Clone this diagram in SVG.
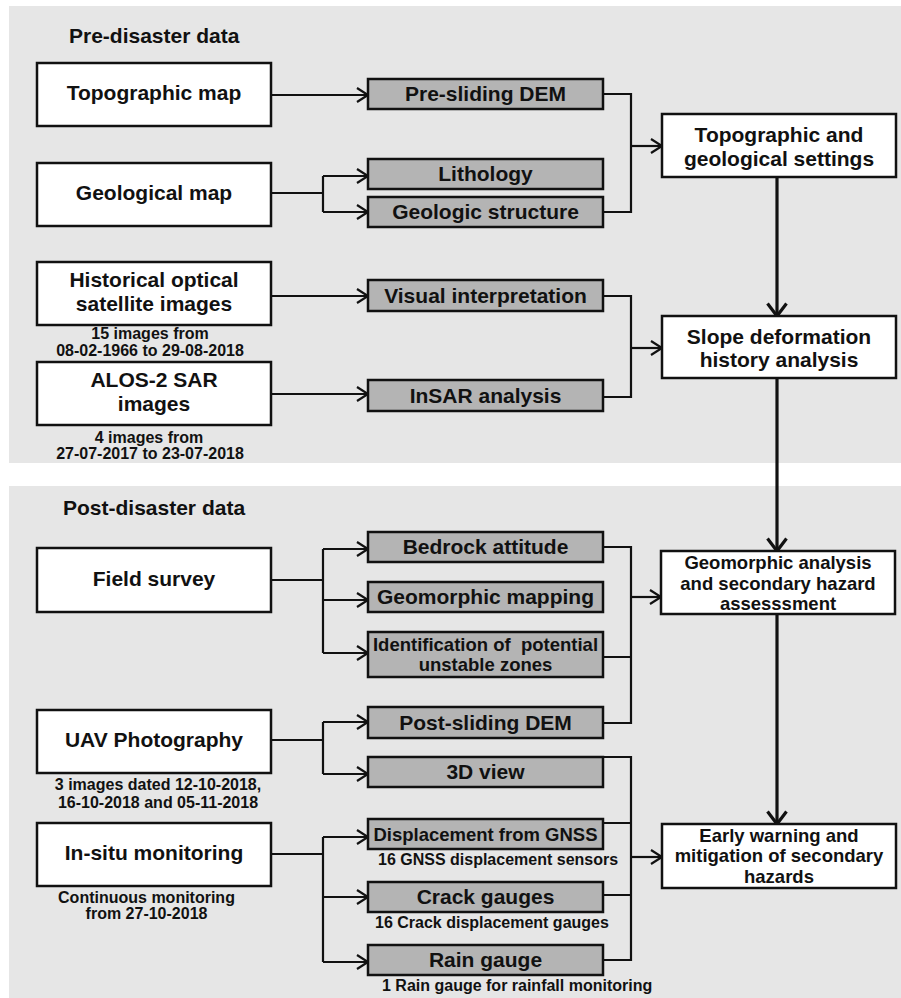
<svg xmlns="http://www.w3.org/2000/svg" width="901" height="998" viewBox="0 0 901 998">
<defs>
<style>
.panel{fill:#e6e6e6;stroke:none}
.wb{fill:#ffffff;stroke:#111;stroke-width:2.5}
.gb{fill:#b4b4b4;stroke:#111;stroke-width:2.5}
text{font-family:"Liberation Sans",Arial,sans-serif;font-weight:bold;fill:#111}
.t21{font-size:21px;text-anchor:middle}
.t185{font-size:18.5px;text-anchor:middle}
.cap{font-size:16px;text-anchor:middle}
.title{font-size:21px}
.c{fill:none;stroke:#111;stroke-width:2.2}
.ck{fill:none;stroke:#111;stroke-width:3.2}
</style>
<marker id="a" markerUnits="userSpaceOnUse" markerWidth="16" markerHeight="18" refX="12.5" refY="8.5" orient="auto">
<path d="M1.5,1.5 L12.5,8.5 L1.5,15.5" fill="none" stroke="#111" stroke-width="2.2"/>
</marker>
<marker id="b" markerUnits="userSpaceOnUse" markerWidth="18" markerHeight="24" refX="14" refY="11" orient="auto">
<path d="M1.5,1.5 L14,11 L1.5,20.5" fill="none" stroke="#111" stroke-width="3.2"/>
</marker>
</defs>

<rect class="panel" x="9" y="6" width="892" height="457"/>
<rect class="panel" x="9" y="486" width="892" height="512"/>
<text class="title" x="69" y="43">Pre-disaster data</text>
<text class="title" x="63" y="515">Post-disaster data</text>

<g id="connectors">
<path class="c" d="M271,95 H368" marker-end="url(#a)"/>
<path class="c" d="M271,193 H323 M323,176 V212"/>
<path class="c" d="M323,176 H368" marker-end="url(#a)"/>
<path class="c" d="M323,212 H368" marker-end="url(#a)"/>
<path class="c" d="M603,94 H631 V212 H603"/>
<path class="c" d="M631,146 H662" marker-end="url(#a)"/>
<path class="c" d="M271,296 H368" marker-end="url(#a)"/>
<path class="c" d="M271,394 H368" marker-end="url(#a)"/>
<path class="c" d="M603,296 H631 V397 H603"/>
<path class="c" d="M631,348 H662" marker-end="url(#a)"/>
<path class="ck" d="M777,177 V316" marker-end="url(#b)"/>
<path class="ck" d="M777,378 V551" marker-end="url(#b)"/>
<path class="c" d="M271,580 H323 M323,549 V653"/>
<path class="c" d="M323,549 H368" marker-end="url(#a)"/>
<path class="c" d="M323,600 H368" marker-end="url(#a)"/>
<path class="c" d="M323,653 H368" marker-end="url(#a)"/>
<path class="c" d="M603,547 H631 V723 H603 M603,657 H631"/>
<path class="c" d="M631,597 H661" marker-end="url(#a)"/>
<path class="c" d="M271,740 H323 M323,722 V774"/>
<path class="c" d="M323,722 H368" marker-end="url(#a)"/>
<path class="c" d="M323,774 H368" marker-end="url(#a)"/>
<path class="c" d="M271,854 H323 M323,837 V962"/>
<path class="c" d="M323,837 H368" marker-end="url(#a)"/>
<path class="c" d="M323,897 H368" marker-end="url(#a)"/>
<path class="c" d="M323,962 H368" marker-end="url(#a)"/>
<path class="c" d="M603,757 H631 V960 H603 M603,823 H631 M603,895 H631"/>
<path class="c" d="M631,857 H662" marker-end="url(#a)"/>
<path class="ck" d="M777,614 V824" marker-end="url(#b)"/>
</g>

<g id="topo-map"><rect class="wb" x="37" y="63" width="234" height="63"/><text class="t21" x="154" y="100">Topographic map</text></g>
<g id="geo-map"><rect class="wb" x="37" y="163" width="234" height="63"/><text class="t21" x="154" y="200">Geological map</text></g>
<g id="hist-optical"><rect class="wb" x="37" y="262" width="234" height="63"/><text class="t21" x="154" y="287">Historical optical</text><text class="t21" x="154" y="311">satellite images</text>
<text class="cap" x="150" y="339">15 images from</text><text class="cap" x="150" y="356">08-02-1966 to 29-08-2018</text></g>
<g id="alos"><rect class="wb" x="37" y="362" width="234" height="63"/><text class="t21" x="154" y="387">ALOS-2 SAR</text><text class="t21" x="154" y="411">images</text>
<text class="cap" x="149" y="443">4 images from</text><text class="cap" x="150" y="459">27-07-2017 to 23-07-2018</text></g>

<g id="pre-dem"><rect class="gb" x="368" y="79" width="235" height="30"/><text class="t21" x="485.5" y="101">Pre-sliding DEM</text></g>
<g id="lithology"><rect class="gb" x="368" y="159" width="235" height="30"/><text class="t21" x="485.5" y="181">Lithology</text></g>
<g id="geo-structure"><rect class="gb" x="368" y="197" width="235" height="30"/><text class="t21" x="485.5" y="219">Geologic structure</text></g>
<g id="visual"><rect class="gb" x="368" y="280" width="235" height="31"/><text class="t21" x="485.5" y="302.5">Visual interpretation</text></g>
<g id="insar"><rect class="gb" x="368" y="380" width="235" height="31"/><text class="t21" x="485.5" y="402.5">InSAR analysis</text></g>

<g id="settings"><rect class="wb" x="662" y="114" width="234" height="63"/><text class="t21" x="779" y="142">Topographic and</text><text class="t21" x="779" y="166">geological settings</text></g>
<g id="slope"><rect class="wb" x="662" y="316" width="234" height="62"/><text class="t21" x="779" y="344">Slope deformation</text><text class="t21" x="779" y="367">history analysis</text></g>

<g id="field"><rect class="wb" x="37" y="548" width="234" height="64"/><text class="t21" x="154" y="586">Field survey</text></g>
<g id="uav"><rect class="wb" x="37" y="710" width="234" height="63"/><text class="t21" x="154" y="747">UAV Photography</text>
<text class="cap" x="158" y="790">3 images dated 12-10-2018,</text><text class="cap" x="158" y="808">16-10-2018 and 05-11-2018</text></g>
<g id="insitu"><rect class="wb" x="37" y="823" width="234" height="63"/><text class="t21" x="154" y="860">In-situ monitoring</text>
<text class="cap" x="146.5" y="903">Continuous monitoring</text><text class="cap" x="146.5" y="919">from 27-10-2018</text></g>

<g id="bedrock"><rect class="gb" x="368" y="532" width="235" height="30"/><text class="t21" x="485.5" y="554">Bedrock attitude</text></g>
<g id="geomap"><rect class="gb" x="368" y="582" width="235" height="30"/><text class="t21" x="485.5" y="604">Geomorphic mapping</text></g>
<g id="ident"><rect class="gb" x="368" y="632" width="235" height="45"/><text class="t185" x="485.5" y="651" xml:space="preserve">Identification of  potential</text><text class="t185" x="485.5" y="671">unstable zones</text></g>
<g id="post-dem"><rect class="gb" x="368" y="707" width="235" height="31"/><text class="t21" x="485.5" y="729.5">Post-sliding DEM</text></g>
<g id="view3d"><rect class="gb" x="368" y="757" width="235" height="30"/><text class="t21" x="485.5" y="779">3D view</text></g>
<g id="gnss"><rect class="gb" x="368" y="819" width="235" height="30"/><text class="t185" x="485.5" y="840.5">Displacement from GNSS</text>
<text class="cap" x="378" y="865" style="text-anchor:start">16 GNSS displacement sensors</text></g>
<g id="crack"><rect class="gb" x="368" y="882" width="235" height="30"/><text class="t21" x="485.5" y="904">Crack gauges</text>
<text class="cap" x="375" y="928" style="text-anchor:start">16 Crack displacement gauges</text></g>
<g id="rain"><rect class="gb" x="368" y="945" width="235" height="30"/><text class="t21" x="485.5" y="967">Rain gauge</text>
<text class="cap" x="382" y="991" style="text-anchor:start">1 Rain gauge for rainfall monitoring</text></g>

<g id="geomorphic"><rect class="wb" x="661" y="551" width="234" height="63"/><text class="t185" x="778" y="569">Geomorphic analysis</text><text class="t185" x="778" y="590">and secondary hazard</text><text class="t185" x="778" y="610">assesssment</text></g>
<g id="early"><rect class="wb" x="662" y="824" width="234" height="64"/><text class="t185" x="779" y="842">Early warning and</text><text class="t185" x="779" y="862">mitigation of secondary</text><text class="t185" x="779" y="883">hazards</text></g>
</svg>
